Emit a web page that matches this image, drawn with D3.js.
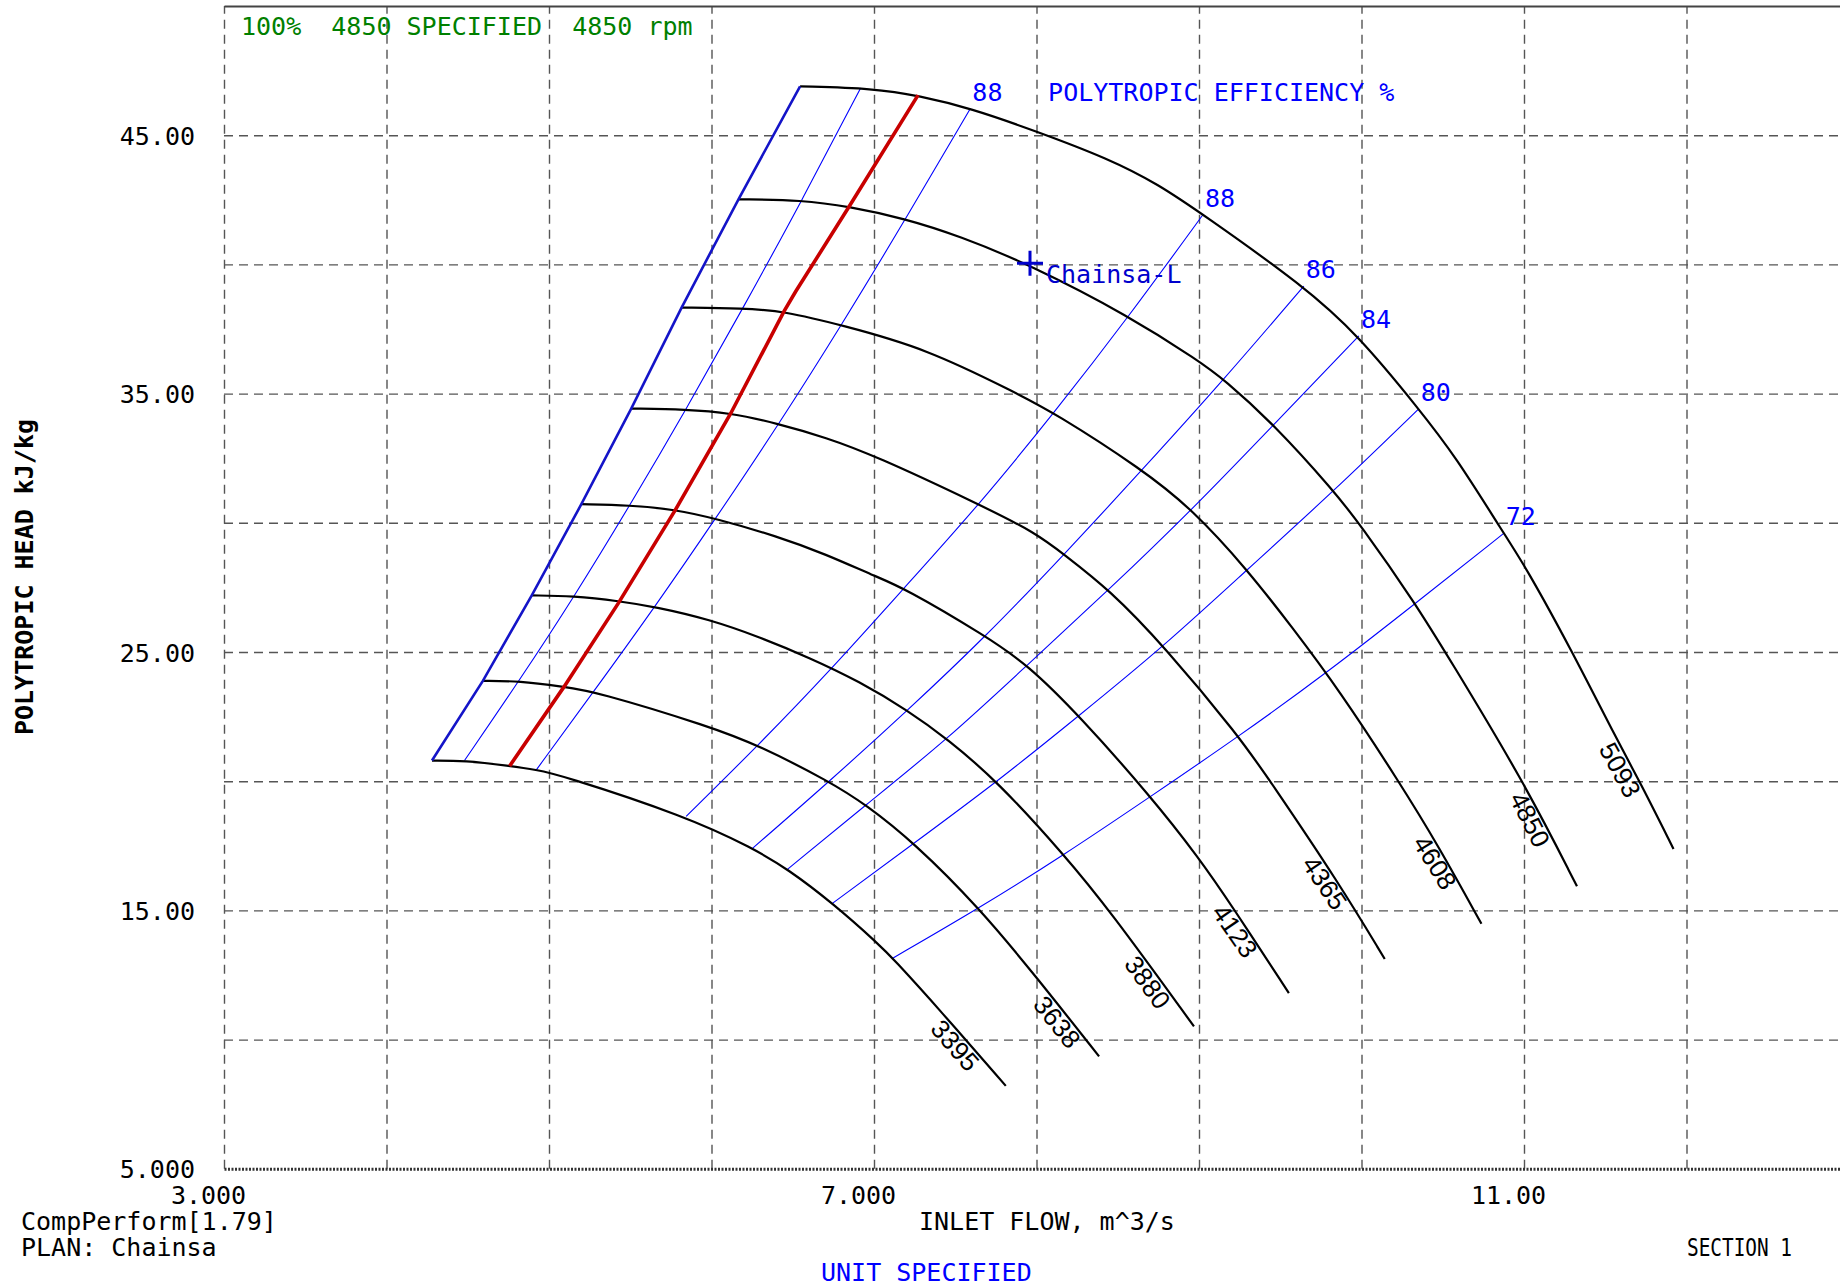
<!DOCTYPE html>
<html>
<head>
<meta charset="utf-8">
<script src="https://cdn.jsdelivr.net/npm/d3@7"></script>
<style>
  body { margin: 0; background: #fff; }
  svg { display: block; }
  text { font-family: "DejaVu Sans Mono", monospace; white-space: pre; }
</style>
</head>
<body>
<div id="chart"></div>
<script>
// speed lines, [inlet flow m^3/s, polytropic head kJ/kg], first point sits on surge
const speed3395 = [[4.28, 20.80], [4.48, 20.80], [4.758, 20.59], [4.922, 20.44], [5.066, 20.25], [5.844, 18.64], [6.254, 17.41], [6.469, 16.6], [6.746, 15.28], [7.033, 13.67], [7.115, 13.15], [7.406, 11.14], [7.811, 8.21]];
const speed3638 = [[4.593, 23.88], [4.816, 23.88], [5.092, 23.65], [5.281, 23.48], [5.998, 22.10], [6.295, 21.37], [6.725, 19.99], [6.951, 19.09], [7.248, 17.61], [7.648, 15.09], [7.996, 12.45], [8.385, 9.35]];
const speed3880 = [[4.894, 27.19], [5.148, 27.17], [5.434, 26.97], [5.66, 26.74], [5.988, 26.26], [6.295, 25.58], [6.602, 24.78], [6.91, 23.86], [7.207, 22.74], [7.453, 21.63], [7.76, 19.99], [8.17, 17.15], [8.447, 15.03], [8.969, 10.51]];
const speed4123 = [[5.199, 30.72], [5.496, 30.68], [5.773, 30.52], [6.029, 30.16], [6.398, 29.49], [6.705, 28.78], [7.002, 27.94], [7.186, 27.48], [7.689, 25.61], [7.945, 24.51], [8.262, 22.54], [8.703, 19.41], [9.0, 17.03], [9.2, 15.2], [9.553, 11.8]];
const speed4365 = [[5.506, 34.42], [5.844, 34.39], [6.111, 34.26], [6.408, 33.84], [6.705, 33.30], [7.002, 32.61], [7.648, 30.71], [7.996, 29.61], [8.17, 28.77], [8.447, 27.42], [8.785, 25.23], [9.246, 21.74], [9.44, 19.99], [9.861, 16.06], [10.143, 13.12]];
const speed4608 = [[5.816, 38.33], [6.193, 38.30], [6.447, 38.19], [6.8, 37.65], [7.32, 36.75], [7.873, 35.03], [8.109, 34.26], [8.652, 32.06], [8.959, 30.52], [9.297, 28.19], [9.574, 25.95], [9.861, 23.54], [10.23, 19.99], [10.475, 17.48], [10.738, 14.48]];
const speed4850 = [[6.166, 42.52], [6.558, 42.49], [6.845, 42.24], [7.186, 41.78], [7.525, 41.10], [7.955, 40.0], [8.57, 38.0], [9.0, 36.26], [9.154, 35.55], [9.461, 33.81], [9.83, 31.23], [9.984, 30.0], [10.332, 26.88], [10.537, 24.78], [10.998, 19.99], [11.326, 15.93]];
const speed5093 = [[6.545, 46.89], [7.0, 46.81], [7.28, 46.52], [7.59, 46.05], [8.0, 45.15], [8.44, 44.1], [8.75, 43.1], [9.025, 41.93], [9.645, 39.16], [9.984, 37.23], [10.352, 34.41], [10.578, 32.58], [10.875, 29.59], [11.008, 28.32], [11.29, 25.1], [11.561, 21.74], [11.715, 19.95], [11.92, 17.38]];

const speedNames = ['3395', '3638', '3880', '4123', '4365', '4608', '4850', '5093'];
const speedLabelFlow = [7.437, 8.073, 8.637, 9.18, 9.734, 10.42, 11.02, 11.57];

// red control line
const controlLine = [[4.758, 20.59], [5.092, 23.65], [5.428, 26.90], [5.774, 30.46], [6.118, 34.23], [6.447, 38.19], [6.518, 38.95], [6.847, 42.24], [7.271, 46.55]];

// polytropic efficiency lines (%)
const effLeft86 = [[4.48, 20.80], [4.816, 23.88], [5.158, 27.17], [5.499, 30.69], [5.844, 34.39], [6.193, 38.30], [6.558, 42.49], [6.918, 46.83]];
const effLeft88 = [[4.922, 20.44], [5.275, 23.47], [5.647, 26.70], [6.024, 30.15], [6.416, 33.83], [6.8, 37.65], [7.193, 41.74], [7.593, 46.03]];
const effRight88 = [[5.844, 18.64], [6.285, 21.37], [6.736, 24.32], [7.186, 27.48], [7.648, 30.71], [8.109, 34.26], [8.57, 38.0], [9.025, 41.93]];
const effRight86 = [[6.254, 17.41], [6.725, 19.99], [7.207, 22.74], [7.689, 25.61], [8.17, 28.77], [8.652, 32.06], [9.154, 35.55], [9.645, 39.16]];
const effRight84 = [[6.469, 16.6], [6.951, 19.09], [7.453, 21.63], [7.945, 24.51], [8.447, 27.42], [8.959, 30.52], [9.461, 33.81], [9.984, 37.23]];
const effRight80 = [[6.746, 15.28], [7.248, 17.61], [7.76, 19.99], [8.262, 22.54], [8.785, 25.23], [9.297, 28.19], [9.83, 31.23], [10.352, 34.41]];
const effRight72 = [[7.115, 13.15], [7.648, 15.09], [8.17, 17.15], [8.703, 19.41], [9.246, 21.74], [9.79, 24.21], [10.332, 26.88], [10.875, 29.59]];

const effLabels = ['88', '88', '86', '84', '80', '72'];

// operating point
const pointName = 'Chainsa-L';
const pointFlowHead = [7.96, 40.04];

// axes
const gridFlows = d3.range(3, 13);
const gridHeads = d3.range(10, 50, 5);
const flowTicks = [3, 7, 11];
const headTicks = [5, 15, 25, 35, 45];

const titleText = '100%  4850 SPECIFIED  4850 rpm';
const xTitle = 'INLET FLOW, m^3/s';
const yTitle = 'POLYTROPIC HEAD kJ/kg';
const effTitle = 'POLYTROPIC EFFICIENCY %';
const footLeft = ['CompPerform[1.79]', 'PLAN: Chainsa'];
const footRight = 'SECTION 1';
const footUnit = 'UNIT SPECIFIED';

const width = 1840, height = 1286;
const fontSize = 25;

const x = d3.scaleLinear().domain([3, 13]).range([224, 1849]);
const y = d3.scaleLinear().domain([5, 50]).range([1168.8, 6]);

const svg = d3.select('#chart')
  .append('svg')
  .attr('width', width)
  .attr('height', height)
  .style('background', '#fff');

// grid
svg.append('g')
  .attr('transform', `translate(0,${y(5)})`)
  .call(d3.axisBottom(x).tickValues(gridFlows).tickSize(-(y(5) - y(50))).tickFormat(''))
  .call(g => g.select('.domain').remove())
  .selectAll('line')
  .attr('stroke', '#555')
  .attr('stroke-width', 1.4)
  .attr('stroke-dasharray', '9,6');

svg.append('g')
  .attr('transform', `translate(${x(3)},0)`)
  .call(d3.axisLeft(y).tickValues(gridHeads).tickSize(-(width - x(3))).tickFormat(''))
  .call(g => g.select('.domain').remove())
  .selectAll('line')
  .attr('stroke', '#555')
  .attr('stroke-width', 1.4)
  .attr('stroke-dasharray', '9,6');

// frame top and bottom
svg.append('g')
  .attr('transform', `translate(0,${y(50)})`)
  .call(d3.axisTop(x).tickValues([]).tickSizeOuter(0))
  .select('.domain')
  .attr('stroke', '#444')
  .attr('stroke-width', 1.8);

svg.append('g')
  .attr('transform', `translate(0,${y(5)})`)
  .call(d3.axisBottom(x).tickValues([]).tickSizeOuter(0))
  .select('.domain')
  .attr('stroke', '#333')
  .attr('stroke-width', 3)
  .attr('stroke-dasharray', '2,1.5');

// tick labels
const fmt = d3.format('.4r');

const xl = svg.append('g')
  .attr('transform', `translate(0,${y(5)})`)
  .call(d3.axisBottom(x).tickValues(flowTicks).tickSize(0).tickFormat(fmt));
xl.select('.domain').remove();
xl.attr('font-family', null).attr('font-size', null);
xl.selectAll('text')
  .attr('y', 26)
  .attr('dy', '0.36em')
  .attr('dx', -16)
  .attr('fill', '#000')
  .style('font-size', fontSize + 'px');

const yl = svg.append('g')
  .attr('transform', `translate(${x(3)},0)`)
  .call(d3.axisLeft(y).tickValues(headTicks).tickSize(0).tickFormat(fmt));
yl.select('.domain').remove();
yl.attr('font-family', null).attr('font-size', null);
yl.selectAll('text')
  .attr('x', -29)
  .attr('dy', '0.36em')
  .attr('fill', '#000')
  .style('font-size', fontSize + 'px');

// smooth through the read points
const line = d3.line()
  .x(d => x(d[0]))
  .y(d => y(d[1]))
  .curve(d3.curveBasis);

const straight = d3.line()
  .x(d => x(d[0]))
  .y(d => y(d[1]));

// efficiency lines
const effLines = [effLeft86, effLeft88, effRight88, effRight86, effRight84, effRight80, effRight72];
const labelledEff = [effLeft88, effRight88, effRight86, effRight84, effRight80, effRight72];

svg.append('g')
  .selectAll('path')
  .data(effLines)
  .join('path')
  .attr('d', line)
  .attr('fill', 'none')
  .attr('stroke', '#0000ff')
  .attr('stroke-width', 1.1);

// speed lines
const speedCurves = [speed3395, speed3638, speed3880, speed4123, speed4365, speed4608, speed4850, speed5093];

svg.append('g')
  .selectAll('path')
  .data(speedCurves)
  .join('path')
  .attr('d', line)
  .attr('fill', 'none')
  .attr('stroke', '#000')
  .attr('stroke-width', 2.2);

// surge line through the start of each speed line
const surge = speedCurves.map(c => c[0]);
svg.append('path')
  .attr('d', straight(surge))
  .attr('fill', 'none')
  .attr('stroke', '#1414c8')
  .attr('stroke-width', 2.6);

svg.append('path')
  .attr('d', straight(controlLine))
  .attr('fill', 'none')
  .attr('stroke', '#c80000')
  .attr('stroke-width', 3.6);

// speed labels along the curves
function poseAt(pts, fx) {
  let i = pts.findIndex((p, k) => k < pts.length - 1 && fx >= p[0] && fx <= pts[k + 1][0]);
  if (i < 0) i = pts.length - 2;
  const a = pts[i], b = pts[i + 1];
  const t = (fx - a[0]) / (b[0] - a[0]);
  const px = x(a[0]) + t * (x(b[0]) - x(a[0]));
  const py = y(a[1]) + t * (y(b[1]) - y(a[1]));
  const ang = Math.atan2(y(b[1]) - y(a[1]), x(b[0]) - x(a[0])) * 180 / Math.PI;
  return [px, py, ang];
}

svg.append('g')
  .selectAll('text')
  .data(speedCurves)
  .join('text')
  .attr('transform', (d, i) => {
    const [px, py, ang] = poseAt(d, speedLabelFlow[i]);
    return `translate(${px},${py}) rotate(${ang})`;
  })
  .attr('dy', '0.8em')
  .style('font-family', '"Liberation Sans", Arial, sans-serif')
  .style('font-size', '26px')
  .attr('fill', '#000')
  .text((d, i) => speedNames[i]);

// efficiency labels at the top end of each line
svg.append('g')
  .selectAll('text')
  .data(labelledEff)
  .join('text')
  .attr('x', d => x(d[d.length - 1][0]) + 2)
  .attr('y', d => y(d[d.length - 1][1]) - 8)
  .attr('fill', '#0000ff')
  .style('font-size', fontSize + 'px')
  .text((d, i) => effLabels[i]);

const topEff = effLeft88[effLeft88.length - 1];
svg.append('text')
  .attr('x', x(topEff[0]) + 2 + 5 * 15.15)
  .attr('y', y(topEff[1]) - 8)
  .attr('fill', '#0000ff')
  .style('font-size', fontSize + 'px')
  .text(effTitle);

// operating point
const px = x(pointFlowHead[0]), py = y(pointFlowHead[1]);
svg.append('path')
  .attr('d', `M${px - 13},${py}H${px + 13}M${px},${py - 12.5}V${py + 12.5}`)
  .attr('stroke', '#0000cc')
  .attr('stroke-width', 3);
svg.append('text')
  .attr('x', px + 16)
  .attr('y', py + 20)
  .attr('fill', '#0000cc')
  .style('font-size', fontSize + 'px')
  .text(pointName);

// titles and footers
svg.append('text')
  .attr('x', 241)
  .attr('y', 35)
  .attr('fill', '#008000')
  .style('font-size', fontSize + 'px')
  .text(titleText);

svg.append('text')
  .attr('transform', 'translate(24,577) rotate(-90)')
  .attr('text-anchor', 'middle')
  .attr('dy', '0.36em')
  .attr('fill', '#000')
  .style('font-size', fontSize + 'px')
  .style('font-weight', 'bold')
  .text(yTitle);

svg.append('text')
  .attr('x', 919)
  .attr('y', 1230)
  .attr('fill', '#000')
  .style('font-size', fontSize + 'px')
  .text(xTitle);

svg.append('g')
  .selectAll('text')
  .data(footLeft)
  .join('text')
  .attr('x', 21)
  .attr('y', (d, i) => 1230 + i * 26)
  .attr('fill', '#000')
  .style('font-size', fontSize + 'px')
  .text(d => d);

svg.append('text')
  .attr('x', 1687)
  .attr('y', 1256)
  .attr('textLength', 105)
  .attr('lengthAdjust', 'spacingAndGlyphs')
  .attr('fill', '#000')
  .style('font-size', fontSize + 'px')
  .text(footRight);

svg.append('text')
  .attr('x', 821)
  .attr('y', 1281)
  .attr('fill', '#0000ff')
  .style('font-size', fontSize + 'px')
  .text(footUnit);
</script>
</body>
</html>
